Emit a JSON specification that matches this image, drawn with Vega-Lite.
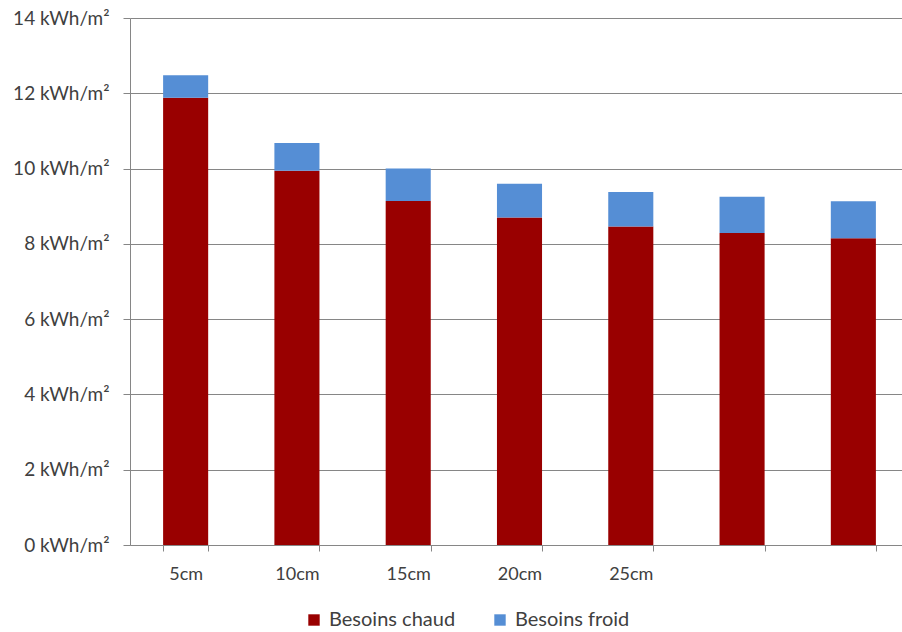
{
  "$schema": "https://vega.github.io/schema/vega-lite/v6.json",
  "width": 767,
  "height": 527,
  "autosize": {"type": "none"},
  "padding": {"left": 130, "top": 18, "right": 5, "bottom": 87},
  "background": "white",
  "config": {
    "view": {"stroke": null},
    "font": "Lato",
    "axis": {"labelFont": "Lato", "labelColor": "#404040"},
    "legend": {"labelFont": "Lato"}
  },
  "data": {
    "values": [
      {"cat": "5cm", "serie": "Besoins chaud", "v": 11.88},
      {"cat": "5cm", "serie": "Besoins froid", "v": 0.60},
      {"cat": "10cm", "serie": "Besoins chaud", "v": 9.94},
      {"cat": "10cm", "serie": "Besoins froid", "v": 0.74},
      {"cat": "15cm", "serie": "Besoins chaud", "v": 9.14},
      {"cat": "15cm", "serie": "Besoins froid", "v": 0.86},
      {"cat": "20cm", "serie": "Besoins chaud", "v": 8.70},
      {"cat": "20cm", "serie": "Besoins froid", "v": 0.90},
      {"cat": "25cm", "serie": "Besoins chaud", "v": 8.46},
      {"cat": "25cm", "serie": "Besoins froid", "v": 0.92},
      {"cat": " ", "serie": "Besoins chaud", "v": 8.29},
      {"cat": " ", "serie": "Besoins froid", "v": 0.96},
      {"cat": "  ", "serie": "Besoins chaud", "v": 8.15},
      {"cat": "  ", "serie": "Besoins froid", "v": 0.98}
    ]
  },
  "mark": {"type": "bar"},
  "encoding": {
    "x": {
      "field": "cat",
      "type": "nominal",
      "sort": null,
      "scale": {"range": [0, 779], "paddingInner": 0.595, "paddingOuter": 0.2975},
      "axis": {
        "title": null,
        "labelAngle": 0,
        "tickBand": "extent",
        "domainColor": "#868686",
        "tickColor": "#868686",
        "tickSize": 6,
        "labelFontSize": 18,
        "labelPadding": 14,
        "labelDx": -8,
        "grid": false
      }
    },
    "y": {
      "field": "v",
      "type": "quantitative",
      "stack": "zero",
      "scale": {"domain": [0, 14], "nice": false},
      "axis": {
        "title": null,
        "values": [0, 2, 4, 6, 8, 10, 12, 14],
        "labelExpr": "datum.value + ' kWh/m²'",
        "labelFontSize": 19,
        "labelPadding": 14,
        "tickSize": 7,
        "tickColor": "#868686",
        "domainColor": "#868686",
        "gridColor": "#868686",
        "gridWidth": 1
      }
    },
    "color": {
      "field": "serie",
      "type": "nominal",
      "scale": {"domain": ["Besoins chaud", "Besoins froid"], "range": ["#990000", "#558ED5"]},
      "legend": {
        "title": null,
        "orient": "none",
        "direction": "horizontal",
        "legendX": 174,
        "legendY": 592,
        "symbolType": "square",
        "symbolSize": 130,
        "symbolStrokeWidth": 0,
        "labelFontSize": 20,
        "labelColor": "#404040",
        "labelOffset": 5,
        "columnPadding": 34
      }
    },
    "order": {"field": "serie", "sort": "ascending"}
  }
}
